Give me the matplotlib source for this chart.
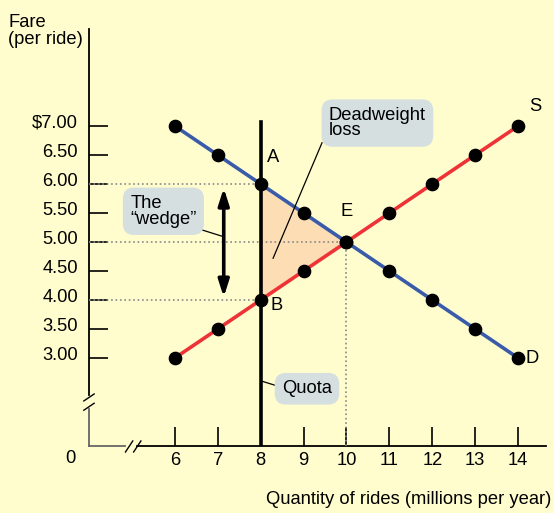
import matplotlib.pyplot as plt
from matplotlib.transforms import ScaledTranslation

plt.rcParams['font.family'] = ['Liberation Sans', 'DejaVu Sans']

# Quantity of rides (millions per year) and fares ($ per ride)
quantity = [6, 7, 8, 9, 10, 11, 12, 13, 14]
demand_fare = [7.00, 6.50, 6.00, 5.50, 5.00, 4.50, 4.00, 3.50, 3.00]
supply_fare = [3.00, 3.50, 4.00, 4.50, 5.00, 5.50, 6.00, 6.50, 7.00]

fare_ticks = [7.00, 6.50, 6.00, 5.50, 5.00, 4.50, 4.00, 3.50, 3.00]
fare_labels = ['$7.00', '6.50', '6.00', '5.50', '5.00', '4.50', '4.00', '3.50', '3.00']

quota = 8
equilibrium = (10, 5.00)
demand_price = 6.00   # A
supply_price = 4.00   # B

bg = '#FFFDCD'
bubble = '#D5DFE0'
blue = '#3A5BAA'
red = '#EE3338'
fs = 13.2

fig = plt.figure(figsize=(5.54, 5.13), dpi=100, facecolor=bg)
ax = fig.add_axes([89 / 554, 67 / 513, 457 / 554, 417 / 513])
ax.set_facecolor(bg)
ax.set_xlim(4.0, 14.65)
ax.set_ylim(1.483, 8.672)
for s in ax.spines.values():
    s.set_visible(False)

# axes with breaks
ax.plot([4.0, 4.0], [2.36, 8.672], color='black', lw=1.3, clip_on=False)
ax.plot([4.0, 4.0], [1.483, 2.12], color='#666666', lw=1.3, clip_on=False)
ax.plot([3.88, 4.12], [2.26, 2.38], color='black', lw=1.0, clip_on=False)
ax.plot([3.88, 4.12], [2.10, 2.22], color='black', lw=1.0, clip_on=False)
ax.plot([5.13, 14.65], [1.483, 1.483], color='black', lw=1.3, clip_on=False)
ax.plot([4.0, 4.85], [1.483, 1.483], color='#666666', lw=1.3, clip_on=False)
ax.plot([4.85, 5.02], [1.38, 1.57], color='black', lw=1.0, clip_on=False)
ax.plot([5.04, 5.21], [1.38, 1.57], color='black', lw=1.0, clip_on=False)

ax.set_xticks(quantity)
ax.set_xticklabels([str(q) for q in quantity])
ax.set_yticks(fare_ticks)
ax.set_yticklabels(fare_labels)
ax.tick_params(direction='in', length=14, width=1.2, labelsize=fs, pad=4)
ax.tick_params(axis='y', pad=8)
lift = ScaledTranslation(0, 3.5 / 72, fig.dpi_scale_trans)
for lab in ax.get_yticklabels():
    lab.set_transform(lab.get_transform() + lift)
ax.text(-0.04, -0.03, '0', transform=ax.transAxes, fontsize=fs, ha='center', va='center')

# dotted guides
ax.plot([4.0, quota], [demand_price, demand_price], ls=':', color='#888888', lw=1.2)
ax.plot([4.0, equilibrium[0]], [equilibrium[1], equilibrium[1]], ls=':', color='#888888', lw=1.2)
ax.plot([4.0, quota], [supply_price, supply_price], ls=':', color='#888888', lw=1.2)
ax.plot([equilibrium[0], equilibrium[0]], [1.483, equilibrium[1]], ls=':', color='#888888', lw=1.2)

# deadweight loss triangle
ax.fill([quota, equilibrium[0], quota], [demand_price, equilibrium[1], supply_price],
        color='#FDDDB4', zorder=1)

ax.plot(quantity, demand_fare, color=blue, lw=2.6, zorder=2)
ax.plot(quantity, supply_fare, color=red, lw=2.6, zorder=2)

# quota line
ax.plot([quota, quota], [1.483, 7.07], color='black', lw=2.6, zorder=3)

ax.scatter(quantity, demand_fare, s=78, color='black', zorder=4)
ax.scatter(quantity, supply_fare, s=78, color='black', zorder=4)

# the wedge arrow
ax.annotate('', xy=(7.14, 5.93), xytext=(7.14, 4.05),
            arrowprops=dict(arrowstyle='<|-|>,head_length=1.0,head_width=0.32',
                            color='black', lw=2.6, shrinkA=0, shrinkB=0))

ax.text(8.29, 6.45, 'A', fontsize=fs, ha='center', va='center')
ax.text(10.0, 5.52, 'E', fontsize=fs, ha='center', va='center')
ax.text(8.38, 3.90, 'B', fontsize=fs, ha='center', va='center')
ax.text(14.40, 7.33, 'S', fontsize=fs, ha='center', va='center')
ax.text(14.33, 3.00, 'D', fontsize=fs, ha='center', va='center')

box = dict(boxstyle='round,pad=0.4,rounding_size=0.6', fc=bubble, ec='none')
ax.text(4.96, 5.53, 'The\n\u201cwedge\u201d', fontsize=fs, ha='left', va='center',
        linespacing=0.9, bbox=box, zorder=5)
ax.plot([6.58, 7.10], [5.22, 5.10], color='black', lw=0.9)

ax.text(9.59, 7.05, 'Deadweight\nloss', fontsize=fs, ha='left', va='center',
        linespacing=0.9, bbox=box, zorder=5)
ax.plot([9.43, 8.29], [6.71, 4.72], color='black', lw=0.9)

ax.text(9.08, 2.47, 'Quota', fontsize=fs, ha='center', va='center', bbox=box, zorder=5)
ax.plot([8.03, 8.38], [2.60, 2.52], color='black', lw=0.9)

fig.text(8 / 554, 1 - 31 / 513, 'Fare\n(per ride)', fontsize=fs, ha='left', va='center',
         linespacing=0.95)
fig.text(551 / 554, 1 - 500 / 513, 'Quantity of rides (millions per year)', fontsize=fs,
         ha='right', va='center')

fig.savefig('out.png', dpi=100, facecolor=bg)
